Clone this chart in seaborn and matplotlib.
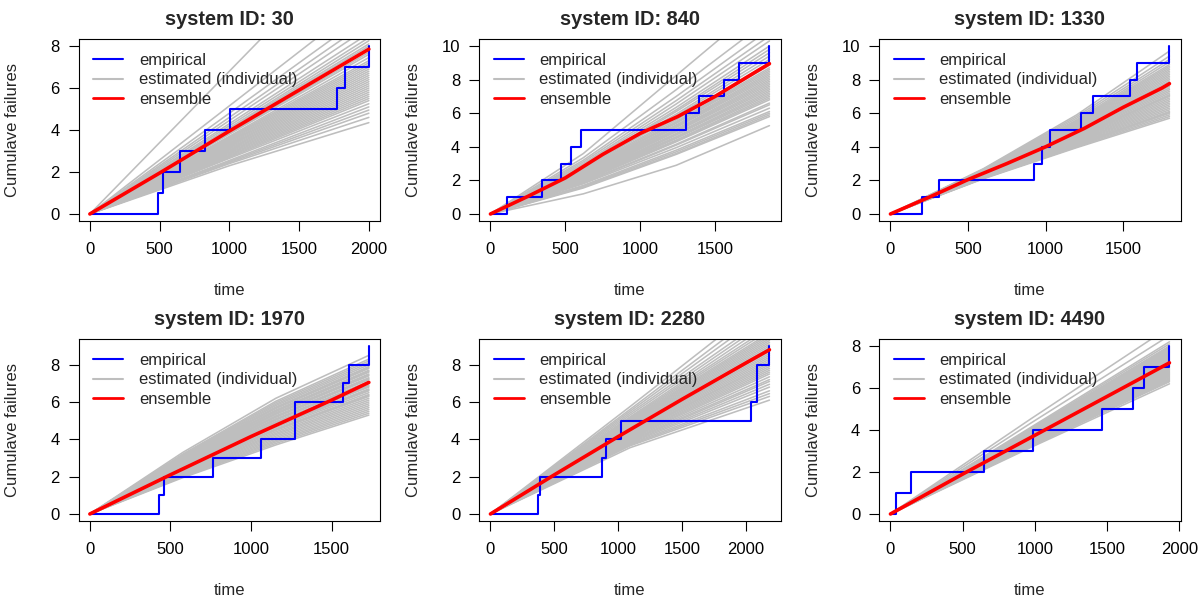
import matplotlib
matplotlib.use("Agg")
import matplotlib.pyplot as plt
from matplotlib.lines import Line2D
import seaborn as sns
import pandas as pd

# ---------------- data ----------------
system_ids = [30, 840, 1330, 1970, 2280, 4490]
end_times = [2000, 1862, 1798, 1731, 2182, 1931]

# empirical failure times (duplicates = simultaneous failures)
events_30 = [490, 525, 645, 822, 1005, 1770, 1830, 2000]
events_840 = [111, 344, 473, 538, 607, 1304, 1389, 1556, 1656, 1862]
events_1330 = [204, 311, 927, 976, 1026, 1230, 1305, 1541, 1588, 1798]
events_1970 = [428, 461, 767, 1064, 1271, 1271, 1570, 1607, 1731]
events_2280 = [370, 391, 872, 906, 1021, 2039, 2088, 2088, 2182]
events_4490 = [35, 145, 645, 984, 1463, 1677, 1758, 1931]

# ensemble curves (time, cumulative failures)
ens_t_30 = [0, 500, 1000, 1500, 2000]
ens_v_30 = [0, 1.95, 3.95, 5.9, 7.85]
ens_t_840 = [0, 250, 500, 750, 1000, 1250, 1500, 1750, 1862]
ens_v_840 = [0, 1.05, 2.15, 3.55, 4.8, 5.8, 7.0, 8.35, 8.95]
ens_t_1330 = [0, 250, 500, 750, 1000, 1250, 1500, 1750, 1798]
ens_v_1330 = [0, 1.0, 2.05, 3.0, 4.0, 5.1, 6.35, 7.5, 7.76]
ens_t_1970 = [0, 500, 1000, 1500, 1731]
ens_v_1970 = [0, 2.1, 4.15, 6.1, 7.05]
ens_t_2280 = [0, 500, 1000, 1500, 2000, 2182]
ens_v_2280 = [0, 2.1, 4.15, 6.15, 8.1, 8.8]
ens_t_4490 = [0, 500, 1000, 1500, 1931]
ens_v_4490 = [0, 1.9, 3.75, 5.6, 7.2]

# individual estimated curves: knot times, and each curve's values at those knots
gray_knots_30 = [0, 1000, 2000]
gray_curves_30 = [
    (0, 2.3, 4.35), (0, 2.4, 4.6), (0, 2.45, 4.8), (0, 2.5, 4.95), (0, 2.55, 5.1), (0, 2.65, 5.25), (0, 2.7, 5.4),
    (0, 2.75, 5.5), (0, 2.8, 5.6), (0, 2.85, 5.7), (0, 2.9, 5.8), (0, 2.95, 5.9), (0, 3.0, 6.0), (0, 3.05, 6.1),
    (0, 3.1, 6.2), (0, 3.15, 6.3), (0, 3.2, 6.4), (0, 3.25, 6.5), (0, 3.3, 6.6), (0, 3.35, 6.7), (0, 3.4, 6.8),
    (0, 3.45, 6.9), (0, 3.5, 7.0), (0, 3.55, 7.1), (0, 3.6, 7.2), (0, 3.65, 7.3), (0, 3.7, 7.45), (0, 3.8, 7.6),
    (0, 3.85, 7.7), (0, 3.9, 7.85), (0, 4.0, 8.0), (0, 4.05, 8.1), (0, 4.1, 8.25), (0, 4.2, 8.4), (0, 4.3, 8.6),
    (0, 4.45, 8.9), (0, 4.6, 9.2), (0, 4.8, 9.6), (0, 5.15, 10.3), (0, 6.8, 13.6)]
gray_knots_840 = [0, 620, 1240, 1862]
gray_curves_840 = [
    (0, 1.2, 2.9, 5.26), (0, 1.55, 3.55, 5.8), (0, 1.6, 3.6, 5.9), (0, 1.65, 3.7, 6.0), (0, 1.7, 3.8, 6.1),
    (0, 1.8, 3.95, 6.3), (0, 1.85, 4.1, 6.5), (0, 1.9, 4.15, 6.6), (0, 1.95, 4.3, 6.8), (0, 2.0, 4.35, 6.9),
    (0, 2.05, 4.4, 7.0), (0, 2.05, 4.5, 7.1), (0, 2.1, 4.55, 7.2), (0, 2.15, 4.6, 7.3), (0, 2.15, 4.7, 7.4),
    (0, 2.2, 4.75, 7.5), (0, 2.2, 4.8, 7.6), (0, 2.25, 4.9, 7.7), (0, 2.3, 4.95, 7.8), (0, 2.3, 5.0, 7.9),
    (0, 2.35, 5.05, 8.0), (0, 2.35, 5.15, 8.1), (0, 2.4, 5.2, 8.2), (0, 2.45, 5.25, 8.3), (0, 2.45, 5.3, 8.4),
    (0, 2.5, 5.4, 8.5), (0, 2.5, 5.45, 8.6), (0, 2.55, 5.5, 8.7), (0, 2.6, 5.6, 8.85), (0, 2.65, 5.7, 9.0),
    (0, 2.7, 5.85, 9.2), (0, 2.75, 5.95, 9.4), (0, 2.8, 6.1, 9.6), (0, 2.85, 6.2, 9.8), (0, 2.95, 6.35, 10.0),
    (0, 3.0, 6.55, 10.3), (0, 3.1, 6.75, 10.6), (0, 3.2, 7.0, 11.0), (0, 3.35, 7.4, 11.6), (0, 3.6, 8.25, 12.9)]
gray_knots_1330 = [0, 600, 1200, 1798]
gray_curves_1330 = [
    (0, 2.10, 3.95, 5.7), (0, 2.12, 4.0, 5.8), (0, 2.13, 4.05, 5.9), (0, 2.15, 4.1, 6.0), (0, 2.17, 4.12, 6.05),
    (0, 2.18, 4.15, 6.1), (0, 2.2, 4.2, 6.2), (0, 2.2, 4.25, 6.3), (0, 2.22, 4.3, 6.4), (0, 2.25, 4.35, 6.5),
    (0, 2.27, 4.4, 6.6), (0, 2.28, 4.45, 6.7), (0, 2.3, 4.5, 6.8), (0, 2.3, 4.55, 6.9), (0, 2.32, 4.6, 7.0),
    (0, 2.33, 4.6, 7.05), (0, 2.35, 4.65, 7.1), (0, 2.35, 4.7, 7.2), (0, 2.37, 4.75, 7.3), (0, 2.38, 4.8, 7.4),
    (0, 2.4, 4.85, 7.5), (0, 2.42, 4.9, 7.6), (0, 2.43, 4.95, 7.7), (0, 2.45, 4.95, 7.75), (0, 2.45, 5.0, 7.8),
    (0, 2.47, 5.05, 7.9), (0, 2.48, 5.1, 8.0), (0, 2.5, 5.15, 8.1), (0, 2.52, 5.2, 8.2), (0, 2.53, 5.25, 8.3),
    (0, 2.55, 5.3, 8.4), (0, 2.55, 5.35, 8.5), (0, 2.57, 5.4, 8.6), (0, 2.58, 5.45, 8.7), (0, 2.6, 5.5, 8.8),
    (0, 2.62, 5.55, 8.9), (0, 2.63, 5.6, 9.05), (0, 2.65, 5.7, 9.2), (0, 2.67, 5.8, 9.4), (0, 2.7, 5.9, 9.7)]
gray_knots_1970 = [0, 577, 1154, 1731]
gray_curves_1970 = [
    (0, 1.95, 3.7, 5.3), (0, 2.0, 3.78, 5.4), (0, 2.03, 3.86, 5.5), (0, 2.08, 3.93, 5.6), (0, 2.12, 4.01, 5.7),
    (0, 2.16, 4.09, 5.8), (0, 2.2, 4.17, 5.9), (0, 2.24, 4.25, 6.0), (0, 2.29, 4.32, 6.1), (0, 2.33, 4.4, 6.2),
    (0, 2.37, 4.48, 6.3), (0, 2.39, 4.52, 6.35), (0, 2.41, 4.56, 6.4), (0, 2.45, 4.64, 6.5), (0, 2.5, 4.71, 6.6),
    (0, 2.52, 4.75, 6.65), (0, 2.54, 4.79, 6.7), (0, 2.58, 4.87, 6.8), (0, 2.6, 4.91, 6.85), (0, 2.62, 4.95, 6.9),
    (0, 2.66, 5.03, 7.0), (0, 2.69, 5.07, 7.05), (0, 2.71, 5.1, 7.1), (0, 2.75, 5.18, 7.2), (0, 2.77, 5.22, 7.25),
    (0, 2.79, 5.26, 7.3), (0, 2.83, 5.34, 7.4), (0, 2.85, 5.38, 7.45), (0, 2.87, 5.42, 7.5), (0, 2.92, 5.49, 7.6),
    (0, 2.94, 5.53, 7.65), (0, 2.96, 5.57, 7.7), (0, 3.0, 5.65, 7.8), (0, 3.02, 5.69, 7.85), (0, 3.04, 5.73, 7.9),
    (0, 3.08, 5.81, 8.0), (0, 3.13, 5.88, 8.1), (0, 3.17, 5.96, 8.2), (0, 3.21, 6.04, 8.3), (0, 3.3, 6.2, 8.5)]
gray_knots_2280 = [0, 1091, 2182]
gray_curves_2280 = [
    (0, 3.55, 6.1), (0, 3.65, 6.3), (0, 3.7, 6.45), (0, 3.75, 6.6), (0, 3.8, 6.8), (0, 3.85, 6.95), (0, 3.9, 7.1),
    (0, 3.95, 7.2), (0, 4.0, 7.35), (0, 4.05, 7.5), (0, 4.1, 7.6), (0, 4.15, 7.7), (0, 4.2, 7.8), (0, 4.25, 7.9),
    (0, 4.3, 8.0), (0, 4.3, 8.1), (0, 4.35, 8.2), (0, 4.4, 8.3), (0, 4.45, 8.4), (0, 4.5, 8.5), (0, 4.5, 8.6),
    (0, 4.55, 8.7), (0, 4.6, 8.8), (0, 4.65, 8.9), (0, 4.7, 9.0), (0, 4.75, 9.1), (0, 4.8, 9.2), (0, 4.85, 9.3),
    (0, 4.9, 9.4), (0, 4.95, 9.5), (0, 5.0, 9.6), (0, 5.05, 9.7), (0, 5.1, 9.85), (0, 5.15, 10.0), (0, 5.2, 10.2),
    (0, 5.3, 10.4), (0, 5.4, 10.6), (0, 5.5, 10.9), (0, 5.6, 11.2), (0, 5.75, 11.6)]
gray_knots_4490 = [0, 965, 1931]
gray_curves_4490 = [
    (0, 3.15, 6.2), (0, 3.2, 6.3), (0, 3.25, 6.35), (0, 3.25, 6.4), (0, 3.3, 6.45), (0, 3.3, 6.5), (0, 3.35, 6.55),
    (0, 3.35, 6.6), (0, 3.4, 6.65), (0, 3.4, 6.7), (0, 3.45, 6.75), (0, 3.45, 6.8), (0, 3.5, 6.85), (0, 3.5, 6.9),
    (0, 3.5, 6.95), (0, 3.55, 7.0), (0, 3.55, 7.05), (0, 3.6, 7.1), (0, 3.6, 7.15), (0, 3.6, 7.2), (0, 3.65, 7.25),
    (0, 3.65, 7.3), (0, 3.7, 7.35), (0, 3.7, 7.4), (0, 3.7, 7.45), (0, 3.75, 7.5), (0, 3.75, 7.55), (0, 3.8, 7.6),
    (0, 3.8, 7.65), (0, 3.85, 7.7), (0, 3.85, 7.75), (0, 3.9, 7.8), (0, 3.9, 7.85), (0, 3.95, 7.9), (0, 4.0, 7.95),
    (0, 4.0, 8.0), (0, 4.05, 8.1), (0, 4.1, 8.2), (0, 4.3, 8.5), (0, 4.5, 8.9)]

events = [events_30, events_840, events_1330, events_1970, events_2280, events_4490]
ens_t = [ens_t_30, ens_t_840, ens_t_1330, ens_t_1970, ens_t_2280, ens_t_4490]
ens_v = [ens_v_30, ens_v_840, ens_v_1330, ens_v_1970, ens_v_2280, ens_v_4490]
gray_knots = [gray_knots_30, gray_knots_840, gray_knots_1330, gray_knots_1970, gray_knots_2280, gray_knots_4490]
gray_curves = [gray_curves_30, gray_curves_840, gray_curves_1330, gray_curves_1970, gray_curves_2280, gray_curves_4490]
x_ticks = [[0, 500, 1000, 1500, 2000], [0, 500, 1000, 1500], [0, 500, 1000, 1500],
           [0, 500, 1000, 1500], [0, 500, 1000, 1500, 2000], [0, 500, 1000, 1500, 2000]]

legend_labels = ["empirical", "estimated (individual)", "ensemble"]

# ---------------- style ----------------
sns.set_theme(style="white")
plt.rcParams["font.family"] = ["Liberation Sans", "DejaVu Sans"]

BLUE = "#0000FF"
GRAY = "#BEBEBE"
RED = "#FF0000"

W, H = 1200, 600
fig = plt.figure(figsize=(12, 6), dpi=100)
fig.patch.set_facecolor("white")

box_w, box_h = 301.3, 181.4
lefts = [78.7, 479.3, 879.3]
tops = [39.3, 339.3]

for i, sid in enumerate(system_ids):
    r, c = divmod(i, 3)
    ax = fig.add_axes([lefts[c] / W, 1 - (tops[r] + box_h) / H, box_w / W, box_h / H])
    ax.set_facecolor("white")
    T = end_times[i]

    # gray individual curves
    rows = []
    for k, curve in enumerate(gray_curves[i]):
        for t, v in zip(gray_knots[i], curve):
            rows.append((k, t, v))
    gdf = pd.DataFrame(rows, columns=["curve", "time", "value"])
    sns.lineplot(data=gdf, x="time", y="value", units="curve", estimator=None, sort=False,
                 color=GRAY, linewidth=1.15, ax=ax, legend=False)

    # empirical step function
    ev = events[i]
    st = [0] + list(ev)
    sv = list(range(len(ev) + 1))
    sns.lineplot(x=st, y=sv, drawstyle="steps-post", color=BLUE, linewidth=1.5,
                 estimator=None, sort=False, ax=ax, legend=False)

    # ensemble
    sns.lineplot(x=ens_t[i], y=ens_v[i], color=RED, linewidth=2.6,
                 estimator=None, sort=False, ax=ax, legend=False)

    ymax = len(ev)
    ax.set_xlim(-0.04 * T, 1.04 * T)
    ax.set_ylim(-0.04 * ymax, 1.04 * ymax)
    ax.set_xticks(x_ticks[i])
    ax.set_yticks(list(range(0, ymax + 1, 2)))
    ax.tick_params(axis="both", which="both", direction="out", length=7.2, width=0.8,
                   color="black", labelsize=12, labelcolor="black", bottom=True, left=True)
    ax.tick_params(axis="x", pad=8.0)
    ax.tick_params(axis="y", pad=6.5)
    for sp in ax.spines.values():
        sp.set_visible(True)
        sp.set_color("black")
        sp.set_linewidth(0.8)

    ax.set_title(f"system ID: {sid}", fontsize=14.4, fontweight="bold",
                 y=1 + 20.0 / box_h, va="center", pad=0)
    ax.set_xlabel("time", fontsize=12, va="center")
    ax.set_ylabel("Cumulave failures", fontsize=12, va="center")
    ax.xaxis.set_label_coords(0.5, -70 / box_h)
    ax.yaxis.set_label_coords(-66 / box_w, 0.5)

    handles = [Line2D([], [], color=BLUE, lw=1.5),
               Line2D([], [], color=GRAY, lw=1.5),
               Line2D([], [], color=RED, lw=2.0)]
    ax.legend(handles, legend_labels, loc="upper left", bbox_to_anchor=(14.3 / box_w, 1 - 14.0 / box_h),
              frameon=False, fontsize=12, handlelength=1.8, handletextpad=0.95,
              labelspacing=0.25, borderpad=0, borderaxespad=0)

fig.savefig("out.png", dpi=100, facecolor="white")
